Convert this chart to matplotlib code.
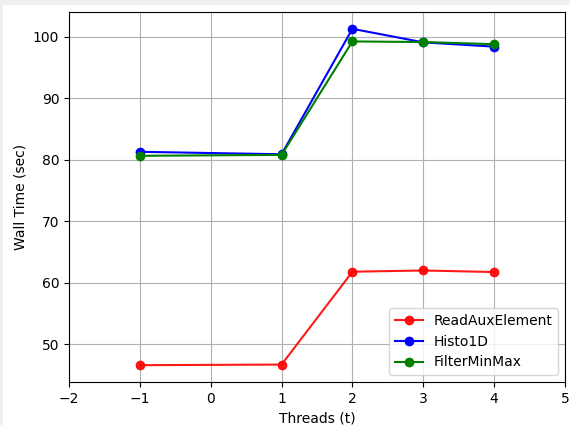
import matplotlib
matplotlib.use("Agg")
import matplotlib.pyplot as plt
from matplotlib.patches import Rectangle

threads = [-1, 1, 2, 3, 4]
read_aux = [46.6, 46.7, 61.8, 62.0, 61.75]
histo1d = [81.3, 80.9, 101.3, 99.1, 98.4]
filter_minmax = [80.65, 80.8, 99.25, 99.15, 98.8]

fig = plt.figure(figsize=(5.7, 4.25), dpi=100)
fig.patch.set_facecolor("#f0f0f0")
# white page area, leaving a thin grey strip at the top and left
fig.patches.append(Rectangle((3 / 570, 0), 1, 420 / 425, transform=fig.transFigure,
                             facecolor="white", edgecolor="none", zorder=-1))

ax = fig.add_axes([69 / 570, 43 / 425, 496 / 570, 370 / 425])
ax.plot(threads, read_aux, "o-", color="red", label="ReadAuxElement", alpha=0.9)
ax.plot(threads, histo1d, "o-", color="blue", label="Histo1D")
ax.plot(threads, filter_minmax, "o-", color="green", label="FilterMinMax")

ax.set_xlim(-2, 5)
ax.set_xlabel("Threads (t)")
ax.set_ylabel("Wall Time (sec)")
ax.grid(True)
ax.legend(loc="lower right")

fig.savefig("out.png", dpi=100, facecolor=fig.get_facecolor())
